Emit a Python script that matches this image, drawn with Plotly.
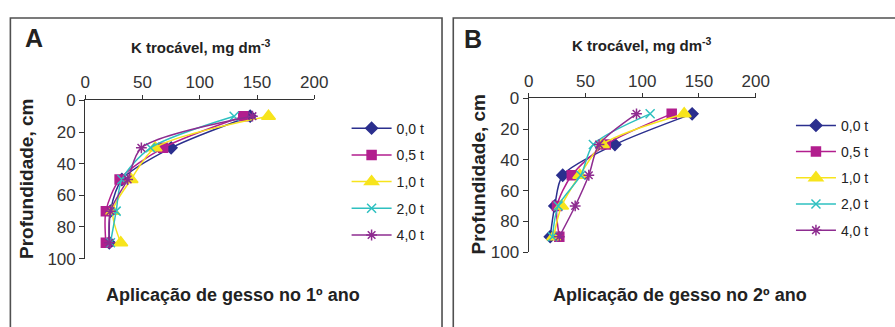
import plotly.graph_objects as go

depths = [10, 30, 50, 70, 90]
doses = ["0,0 t", "0,5 t", "1,0 t", "2,0 t", "4,0 t"]

# Panel A - gypsum applied in 1st year (K trocável, mg dm-3)
a_00 = [144, 75, 32, 22, 21]
a_05 = [138, 68, 30, 18, 18]
a_10 = [160, 61, 40, 24, 31]
a_20 = [130, 57, 32, 27, 22]
a_40 = [146, 49, 37, 22, 21]

# Panel B - gypsum applied in 2nd year
b_00 = [144, 76, 30, 23, 19]
b_05 = [126, 68, 38, 25, 27]
b_10 = [137, 65, 45, 29, 22]
b_20 = [107, 57, 46, 26, 21]
b_40 = [95, 62, 53, 41, 27]

x_ticks = [0, 50, 100, 150, 200]
y_ticks = [0, 20, 40, 60, 80, 100]

colors = ["#2B2F8E", "#B21E8E", "#F7E41C", "#2EC0C0", "#8E2C90"]
symbols = ["diamond", "square", "triangle-up", "x-thin-open", "asterisk-open"]
sizes = [9, 9, 12, 9, 9]

FONT = "Liberation Sans, Arial, sans-serif"
TXT = "#222222"

fig = go.Figure()

panels = [
    ("x", "y", "legend", [a_00, a_05, a_10, a_20, a_40]),
    ("x2", "y2", "legend2", [b_00, b_05, b_10, b_20, b_40]),
]
for xa, ya, lg, series in panels:
    for i, vals in enumerate(series):
        fig.add_trace(go.Scatter(
            x=vals, y=depths, name=doses[i], xaxis=xa, yaxis=ya, legend=lg,
            legendgroup=lg + str(i),
            mode="lines+markers",
            line=dict(color=colors[i], width=1.5, shape="spline", smoothing=0.8),
            marker=dict(symbol=symbols[i], size=sizes[i], color=colors[i],
                        line=dict(color=colors[i], width=1.5)),
        ))

W, H = 895, 327
def px(x):
    return x / W
def py(y):
    return 1 - y / H

axis_common = dict(
    range=[0, 200], tickvals=x_ticks, side="top", showline=True, linecolor="#333333",
    linewidth=1.2, ticks="outside", ticklen=4, tickcolor="#333333", showgrid=False,
    zeroline=False, tickfont=dict(family=FONT, size=17, color="#333333"),
)
yaxis_common = dict(
    range=[100, 0], tickvals=y_ticks, showline=True, linecolor="#333333",
    linewidth=1.2, ticks="outside", ticklen=5, tickcolor="#333333", showgrid=False,
    zeroline=False, tickfont=dict(family=FONT, size=17, color="#333333"),
)

fig.update_layout(
    width=W, height=H, margin=dict(l=0, r=0, t=0, b=0),
    paper_bgcolor="white", plot_bgcolor="white",
    font=dict(family=FONT, color=TXT),
    xaxis=dict(domain=[px(82), px(316)], anchor="y", **axis_common),
    yaxis=dict(domain=[py(265), py(97)], anchor="x", **yaxis_common),
    xaxis2=dict(domain=[px(535), px(767)], anchor="y2", **axis_common),
    yaxis2=dict(domain=[py(258), py(95)], anchor="x2", **yaxis_common),
    legend=dict(x=px(349), y=py(110), xanchor="left", yanchor="top",
                font=dict(family=FONT, size=14, color=TXT), tracegroupgap=5.5,
                itemwidth=40, bgcolor="rgba(0,0,0,0)"),
    legend2=dict(x=px(803), y=py(107), xanchor="left", yanchor="top",
                 font=dict(family=FONT, size=14, color=TXT), tracegroupgap=5,
                 itemwidth=40, bgcolor="rgba(0,0,0,0)"),
    showlegend=True,
)

# panel frames
fig.add_shape(type="rect", xref="paper", yref="paper",
              x0=px(5.5), x1=px(446.5), y0=-0.05, y1=py(9.5),
              line=dict(color="#505050", width=1.6))
fig.add_shape(type="rect", xref="paper", yref="paper",
              x0=px(458), x1=1.05, y0=-0.05, y1=py(9.5),
              line=dict(color="#505050", width=1.6))

def ann(text, x, y, size, bold=True, angle=0):
    fig.add_annotation(
        text=("<b>%s</b>" % text) if bold else text, x=px(x), y=py(y),
        xref="paper", yref="paper", showarrow=False, textangle=angle,
        xanchor="center", yanchor="middle",
        font=dict(family=FONT, size=size, color=TXT))

ann("A", 30, 31, 25)
ann("B", 478, 32, 25)
ann("K trocável, mg dm<sup>-3</sup>", 200, 40, 15)
ann("K trocável, mg dm<sup>-3</sup>", 651, 38, 15)
ann("Profundidade, cm", 22, 181, 19, angle=-90)
ann("Profundidade, cm", 484, 176, 19, angle=-90)
ann("Aplicação de gesso no 1º ano", 233, 304, 18)
ann("Aplicação de gesso no 2º ano", 690, 304, 18)

fig.write_html("out.html")
